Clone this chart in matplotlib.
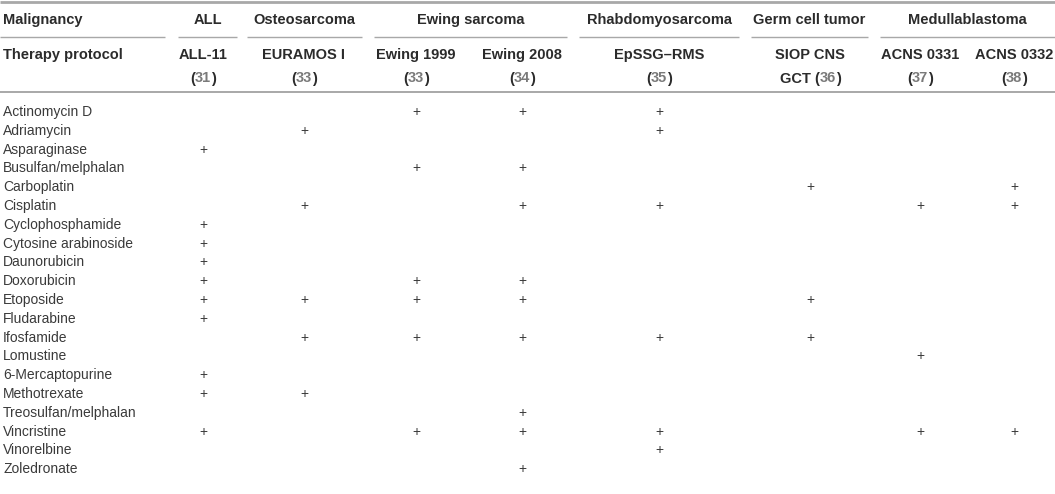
import matplotlib
matplotlib.use("Agg")
import matplotlib.pyplot as plt

# ---- data ----
malignancies = ["ALL", "Osteosarcoma", "Ewing sarcoma", "Rhabdomyosarcoma",
                "Germ cell tumor", "Medullablastoma"]
malignancy_cols = [[0], [1], [2, 3], [4], [5], [6, 7]]
protocols = ["ALL-11", "EURAMOS I", "Ewing 1999", "Ewing 2008", "EpSSG\u2013RMS",
             "SIOP CNS", "ACNS 0331", "ACNS 0332"]
protocol_prefix2 = ["", "", "", "", "", "GCT ", "", ""]
refs = ["31", "33", "33", "34", "35", "36", "37", "38"]
drugs = ["Actinomycin D", "Adriamycin", "Asparaginase", "Busulfan/melphalan",
         "Carboplatin", "Cisplatin", "Cyclophosphamide", "Cytosine arabinoside",
         "Daunorubicin", "Doxorubicin", "Etoposide", "Fludarabine", "Ifosfamide",
         "Lomustine", "6-Mercaptopurine", "Methotrexate", "Treosulfan/melphalan",
         "Vincristine", "Vinorelbine", "Zoledronate"]
# protocol indices used per drug
usage = [
    [2, 3, 4],
    [1, 4],
    [0],
    [2, 3],
    [5, 7],
    [1, 3, 4, 6, 7],
    [0],
    [0],
    [0],
    [0, 2, 3],
    [0, 1, 2, 3, 5],
    [0],
    [1, 2, 3, 4, 5],
    [6],
    [0],
    [0, 1],
    [3],
    [0, 2, 3, 4, 6, 7],
    [4],
    [3],
]

# ---- layout ----
W, H = 1055, 494
fig = plt.figure(figsize=(W / 100, H / 100), dpi=100)
ax = fig.add_axes([0, 0, 1, 1])
ax.set_xlim(0, W)
ax.set_ylim(H, 0)
ax.axis("off")

FONT = ["Liberation Sans", "DejaVu Sans"]
FS_H = 10.5
FS = 10
TXT = "#2b2b2b"
BODY = "#3a3a3a"
GRAY_NUM = "#7a7a7a"
LINE = "#a8a8a8"

col_x = [203, 304, 416, 522, 659, 810, 920, 1014]
group_seg = [(178, 237), (247, 362), (374, 567), (579, 739), (751, 868), (880, 1055)]

# rules
ax.plot([0, W], [2, 2], color=LINE, lw=2.0, solid_capstyle="butt")
ax.plot([0, 165], [37, 37], color=LINE, lw=1.0, solid_capstyle="butt")
for (a, b) in group_seg:
    ax.plot([a, b], [37, 37], color=LINE, lw=1.0, solid_capstyle="butt")
ax.plot([0, W], [92.5, 92.5], color=LINE, lw=1.4, solid_capstyle="butt")

props_b = dict(fontsize=FS_H, fontweight="bold", color=TXT, family=FONT)
props_g = dict(fontsize=FS_H, fontweight="bold", color=GRAY_NUM, family=FONT)

# header row 1
ax.text(3, 20, "Malignancy", ha="left", va="center", **props_b)
for name, (a, b) in zip(malignancies, group_seg):
    ax.text((a + b) / 2, 20, name, ha="center", va="center", **props_b)

# header row 2
ax.text(3, 55, "Therapy protocol", ha="left", va="center", **props_b)

renderer = fig.canvas.get_renderer()


def width_of(t):
    return t.get_window_extent(renderer=renderer).width


for x, p, pre, r in zip(col_x, protocols, protocol_prefix2, refs):
    ax.text(x, 55, p, ha="center", va="center", **props_b)
    pieces = [(pre + "(", props_b), (r, props_g), (")", props_b)]
    arts = [ax.text(0, 77, s, ha="left", va="center_baseline", **pr) for s, pr in pieces]
    widths = [width_of(a) for a in arts]
    full = ax.text(0, 77, pre + "(" + r + ")", ha="left", va="center_baseline", **props_b)
    total = width_of(full)
    full.remove()
    left = x - total / 2
    for a, w in zip(arts, widths):
        a.set_x(left)
        left += w

# body
y0, dy = 112, 18.8
for i, (d, used) in enumerate(zip(drugs, usage)):
    y = y0 + i * dy
    ax.text(3, y, d, ha="left", va="center", fontsize=FS, color=BODY, family=FONT)
    for j in used:
        ax.text(col_x[j], y, "+", ha="center", va="center", fontsize=FS,
                color=BODY, family=FONT)

fig.savefig("out.png", dpi=100, facecolor="white")
